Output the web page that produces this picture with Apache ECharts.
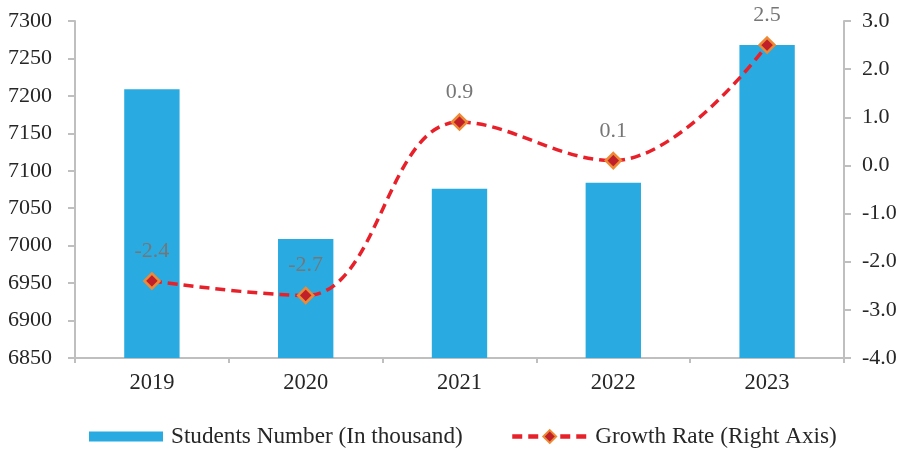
<!DOCTYPE html>
<html>
<head>
<meta charset="utf-8">
<script src="https://cdn.jsdelivr.net/npm/echarts@6/dist/echarts.min.js"></script>
<style>
  html, body { margin: 0; padding: 0; background: #fff; }
  #chart { width: 904px; height: 450px; }
</style>
</head>
<body>
<div id="chart"></div>
<script>
var years = ["2019", "2020", "2021", "2022", "2023"];
var students = [7209, 7009, 7076, 7084, 7268];
var growth = [-2.4, -2.7, 0.9, 0.1, 2.5];

var font = "'Liberation Serif', 'Times New Roman', serif";
var axisGrey = "#bfbfbf";
var legendText = { fontFamily: font, fontSize: 23.2, color: "#262626", padding: [0, 0, 0, 3] };

var mychart = echarts.init(document.getElementById("chart"));
var option = {
  animation: false,
  textStyle: { fontFamily: font },
  grid: { left: 75, right: 60, top: 21, bottom: 92 },
  legend: [
    {
      top: 420,
      left: 84,
      itemWidth: 74,
      itemHeight: 10,
      textStyle: legendText,
      data: [{ name: "Students Number (In thousand)", icon: "rect" }]
    },
    {
      top: 420,
      left: 505,
      itemWidth: 75,
      itemHeight: 16,
      textStyle: legendText,
      data: [{ name: "Growth Rate (Right Axis)", lineStyle: { width: 4.5 } }]
    }
  ],
  xAxis: {
    type: "category",
    data: years,
    axisLine: { onZero: false, lineStyle: { color: axisGrey, width: 2 } },
    axisTick: { show: true, length: 5, lineStyle: { color: axisGrey, width: 2 } },
    axisLabel: { fontSize: 22.5, color: "#262626", margin: 14, fontFamily: font }
  },
  yAxis: [
    {
      type: "value",
      min: 6850,
      max: 7300,
      interval: 50,
      splitLine: { show: false },
      axisLine: { show: true, lineStyle: { color: axisGrey, width: 2 } },
      axisTick: { show: true, length: 7, lineStyle: { color: axisGrey, width: 2 } },
      axisLabel: {
        fontSize: 22, color: "#262626", margin: 23, fontFamily: font,
        formatter: function (v) { return String(v); }
      }
    },
    {
      type: "value",
      min: -4,
      max: 3,
      interval: 1,
      splitLine: { show: false },
      axisLine: { show: true, lineStyle: { color: axisGrey, width: 2 } },
      axisTick: { show: true, length: 7, lineStyle: { color: axisGrey, width: 2 } },
      axisLabel: {
        fontSize: 22, color: "#262626", margin: 18, fontFamily: font,
        formatter: function (v) { return v.toFixed(1); }
      }
    }
  ],
  series: [
    {
      name: "Students Number (In thousand)",
      type: "bar",
      data: students,
      barWidth: "36%",
      itemStyle: { color: "#29abe2" }
    },
    {
      name: "Growth Rate (Right Axis)",
      type: "line",
      yAxisIndex: 1,
      data: growth,
      smooth: 0.4,
      symbol: "diamond",
      symbolSize: 15,
      lineStyle: { color: "#e8202a", width: 3.5, type: [10, 6] },
      itemStyle: { color: "#c0202a", borderColor: "#ee8a35", borderWidth: 2.5 },
      label: {
        show: true,
        position: "top",
        distance: 10,
        fontSize: 22,
        color: "#767676",
        fontFamily: font,
        formatter: function (p) { return p.value.toFixed(1); }
      },
      z: 5
    }
  ]
};
mychart.setOption(option, true);
</script>
</body>
</html>
